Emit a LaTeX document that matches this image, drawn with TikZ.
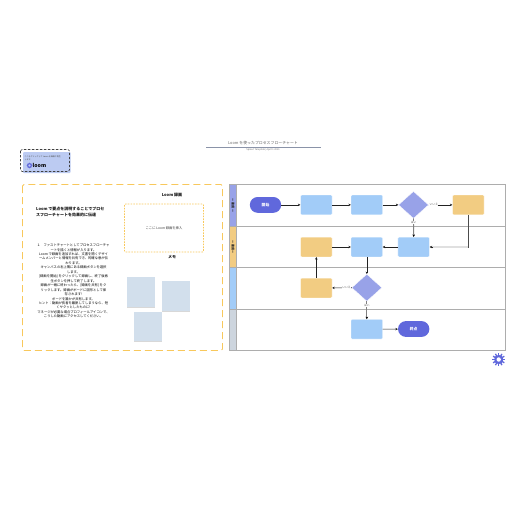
\documentclass[tikz,border=0pt]{standalone}
\usepackage{fontspec}
\setmainfont{Noto Sans CJK JP}
\usetikzlibrary{shapes.geometric,arrows.meta,shadows}
\definecolor{lanegray}{HTML}{ADADAD}
\definecolor{bluebox}{HTML}{A2CCF8}
\definecolor{orangebox}{HTML}{F2CC82}
\definecolor{violet1}{HTML}{98A2E8}
\definecolor{indigo1}{HTML}{6068DC}
\definecolor{framey}{HTML}{F8C85C}
\definecolor{sticky}{HTML}{D2DFEC}
\definecolor{loomblue}{HTML}{BCCBF2}
\definecolor{grayl}{HTML}{CDD5DE}
\definecolor{ink}{HTML}{222222}
\definecolor{ruleblue}{HTML}{8A93A8}
\tikzset{
  x=1pt,y=-1pt,
  proc/.style={rounded corners=1pt,draw=white,line width=.3pt,minimum width=31.5pt,minimum height=19.8pt,inner sep=0pt},
  bluep/.style={proc,fill=bluebox},
  orangep/.style={proc,fill=orangebox},
  term/.style={rounded corners=7.8pt,fill=indigo1,minimum width=31.3pt,minimum height=15.8pt,inner sep=0pt,text=white,font=\fontsize{3.8}{4.5}\selectfont\bfseries},
  decide/.style={diamond,aspect=1.1,fill=violet1,draw=white,line width=.3pt,inner sep=0pt,minimum width=30pt,minimum height=27pt},
  conn/.style={draw=ink,line width=.6pt,-{Stealth[length=2.5pt,width=2.5pt]}},
  conngray/.style={draw=black!50,line width=.8pt,-{Stealth[length=2.5pt,width=2.5pt,black]}},
  edgelab/.style={fill=white,inner sep=.4pt,text=black!65,font=\fontsize{2.8}{3}\selectfont},
  lanebar/.style={draw=lanegray,line width=.8pt},
  sticknote/.style={fill=sticky,inner sep=0pt,minimum width=28pt,minimum height=29.5pt,drop shadow={shadow xshift=.4pt,shadow yshift=-.9pt,fill=black!30,opacity=.5}},
  small/.style={font=\fontsize{3.3}{3.8}\selectfont,text=black!75},
  head/.style={font=\fontsize{4}{4.8}\selectfont\bfseries,text=black!90},
  lanelab/.style={rotate=90,font=\fontsize{3}{3.5}\selectfont\bfseries,text=black!85}
}
\begin{document}
\begin{tikzpicture}
\useasboundingbox[fill=white] (0,0) rectangle (516,516);
% title
\node (title) at (263,143) [font=\fontsize{3.9}{4.5}\selectfont,text=black!60] {Loom を使ったプロセスフローチャート};
\draw[draw=ruleblue,line width=.6pt] (206,147.2) -- (321,147.2);
\node (subtitle) at (263,149.8) [font=\fontsize{2.4}{3}\selectfont,text=black!55] {Sprout Template | April 1 2021};
% loom card
\fill[loomblue,rounded corners=1pt] (23,152) rectangle (70.5,173);
\draw[black!75,line width=.6pt,dash pattern=on 2.4pt off 1.6pt,rounded corners=1.5pt] (20.5,149.5) rectangle (69.5,171.5);
\node (loomnote) at (24.5,158) [anchor=west,align=left,font=\fontsize{2}{3.4}\selectfont,text=black!70,inner sep=0pt] {ここをクリックして Loom を録画や再生\\します。};
\foreach \a in {0,45,...,315}{\fill[indigo1] (29.5,165.5) ++(\a:1.9) circle (1pt);}
\fill[loomblue] (29.5,165.5) circle (.8pt);
\node (loomword) at (32.5,165.8) [anchor=west,inner sep=0pt,font=\fontsize{5.2}{6}\selectfont\bfseries,text=black] {loom};
% left frame
\draw[framey,line width=.8pt,dash pattern=on 7pt off 4pt,rounded corners=1.5pt] (22.5,184.5) rectangle (222.5,350.5);
\node (lefthead) at (36,212.2) [anchor=west,align=left,inner sep=0pt,font=\fontsize{4}{6.3}\selectfont\bfseries,text=black!90] {Loom で要点を説明することでプロセ\\スフローチャートを効果的に伝達};
\node (rechead) at (172,195) [head] {Loom 録画};
\draw[framey,line width=.7pt,dash pattern=on 1.6pt off 1.2pt,rounded corners=1pt] (124.5,204) rectangle (203.5,252);
\node (recins) at (164,228) [small] {ここに Loom 録画を挿入};
\node (memo) at (172,257.5) [head] {メモ};
\node (body) at (73.5,281) [align=center,inner sep=0pt,font=\fontsize{3.3}{4.45}\selectfont,text=black] {1.\quad ファストチャートとしてプロセスフローチャ\\
ートを描くと情報が入ります。\\
Loom で録画を追加すれば、文書を開くデザイ\\
ームメンバーと情報を共有でき、的確な意が伝\\
わります。\\
キャンバスの右上隅にある録画ボタンを選択\\
します。\\
{[}録画を開始{]} をクリックして録画し、終了後再\\
生ボタンを押して終了します。\\
録画が一緒に終わったら、{[}録画を共有{]} をク\\
リックします。録画がボードに図形として保\\
存されます!\\
ボードを誰かが共有します。\\
ヒント：動画が長者を離脱してしまうなら、短\\
くサクッとしたものに!\\
マネージが必要な場合プロフィールアイコンで、\\
こうした動画にアクセスしてください。};
\node (s1) at (141,292) [sticknote] {};
\node (s2) at (176,296) [sticknote] {};
\node (s3) at (148,326.5) [sticknote] {};
% swimlane
\fill[violet1] (229.5,184.7) rectangle (236.7,226.4);
\fill[orangebox] (229.5,226.4) rectangle (236.7,267.5);
\fill[bluebox] (229.5,267.5) rectangle (236.7,309.2);
\fill[grayl] (229.5,309.2) rectangle (236.7,350.4);
\draw[lanebar] (229.5,184.7) rectangle (505.3,350.4);
\draw[lanebar] (236.7,184.7) -- (236.7,350.4);
\draw[lanebar] (229.5,226.4) -- (505.3,226.4);
\draw[lanebar] (229.5,267.5) -- (505.3,267.5);
\draw[lanebar] (229.5,309.2) -- (505.3,309.2);
\node (l1) at (233.1,205.5) [lanelab] {ー 部署 ー};
\node (l2) at (233.1,247) [lanelab] {ー 部署 ー};
% flow nodes
\node (start) at (265.5,204.9) [term] {開始};
\node (a1) at (316.3,204.9) [bluep] {};
\node (a2) at (366.8,204.9) [bluep] {};
\node (d1) at (413.5,204.9) [decide] {};
\node (o1) at (468.3,204.9) [orangep] {};
\node (o2) at (316.3,247) [orangep] {};
\node (b2) at (366.8,247) [bluep] {};
\node (b3) at (413.7,247) [bluep] {};
\node (o3) at (316.3,288) [orangep] {};
\node (d2) at (366.8,287.7) [decide] {};
\node (c1) at (366.8,329.2) [bluep] {};
\node (end) at (413.7,329) [term] {終点};
% connectors
\draw[conn] (start) -- (a1);
\draw[conn] (a1) -- (a2);
\draw[conn] (a2) -- (d1);
\draw[conn] (d1) -- node[edgelab,pos=.22]{いいえ} (o1);
\draw[conngray] (d1) -- node[edgelab,pos=.2]{はい} (b3);
\draw[draw=black!70,line width=.5pt] (o1.south) |- (b3.east);
\coordinate (elbow) at (o1.south |- b3.east);
\draw[black!12,line width=1.6pt] (b3.east) -- (elbow);
\draw[conn,line width=.5pt] ([xshift=3.5pt]b3.east) -- (b3.east);
\draw[conn] (b3) -- (b2);
\draw[conn] (o2) -- (b2);
\draw[conn] (b2) -- (d2);
\draw[conn] (d2) -- node[edgelab,pos=.27]{いいえ} (o3);
\draw[conn] (o3) -- (o2);
\draw[conngray] (d2) -- node[edgelab,pos=.25]{はい} (c1);
\draw[conn] (c1) -- (end);
% gear
\foreach \a in {0,30,...,330}{\draw[indigo1,line width=1.3pt] (498.7,359.5) -- ++(\a:6.5);}
\fill[indigo1] (498.7,359.5) circle (4.6pt);
\fill[white] (498.7,359.5) circle (2.2pt);
\end{tikzpicture}
\end{document}
